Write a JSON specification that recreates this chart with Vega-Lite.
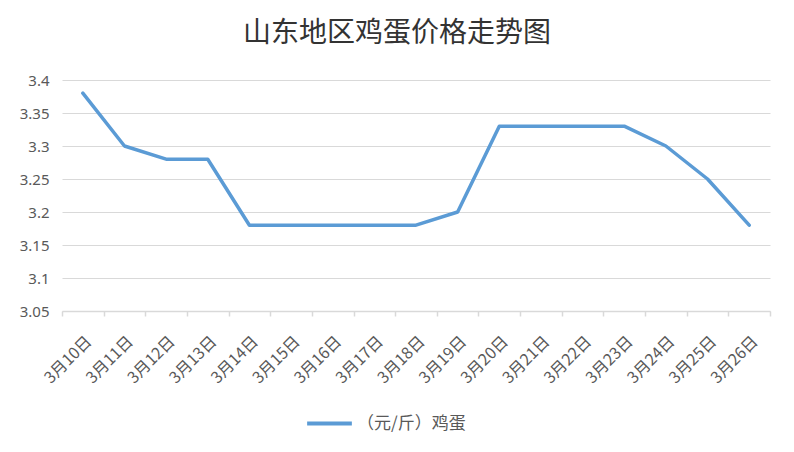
{
  "$schema": "https://vega.github.io/schema/vega-lite/v6.json",
  "autosize": {"type": "none"},
  "padding": {"left": 62, "top": 80, "right": 24, "bottom": 141},
  "width": 708,
  "height": 231,
  "background": "white",
  "title": {
    "text": "山东地区鸡蛋价格走势图",
    "font": "Noto Sans CJK SC",
    "fontSize": 28,
    "fontWeight": "normal",
    "color": "#333333",
    "anchor": "middle",
    "dx": -19,
    "offset": 25
  },
  "data": {
    "values": [
      {"date": "3月10日", "price": 3.38, "series": "（元/斤）鸡蛋"},
      {"date": "3月11日", "price": 3.30, "series": "（元/斤）鸡蛋"},
      {"date": "3月12日", "price": 3.28, "series": "（元/斤）鸡蛋"},
      {"date": "3月13日", "price": 3.28, "series": "（元/斤）鸡蛋"},
      {"date": "3月14日", "price": 3.18, "series": "（元/斤）鸡蛋"},
      {"date": "3月15日", "price": 3.18, "series": "（元/斤）鸡蛋"},
      {"date": "3月16日", "price": 3.18, "series": "（元/斤）鸡蛋"},
      {"date": "3月17日", "price": 3.18, "series": "（元/斤）鸡蛋"},
      {"date": "3月18日", "price": 3.18, "series": "（元/斤）鸡蛋"},
      {"date": "3月19日", "price": 3.20, "series": "（元/斤）鸡蛋"},
      {"date": "3月20日", "price": 3.33, "series": "（元/斤）鸡蛋"},
      {"date": "3月21日", "price": 3.33, "series": "（元/斤）鸡蛋"},
      {"date": "3月22日", "price": 3.33, "series": "（元/斤）鸡蛋"},
      {"date": "3月23日", "price": 3.33, "series": "（元/斤）鸡蛋"},
      {"date": "3月24日", "price": 3.30, "series": "（元/斤）鸡蛋"},
      {"date": "3月25日", "price": 3.25, "series": "（元/斤）鸡蛋"},
      {"date": "3月26日", "price": 3.18, "series": "（元/斤）鸡蛋"}
    ]
  },
  "mark": {"type": "line", "strokeWidth": 3.5, "strokeCap": "round", "strokeJoin": "round"},
  "encoding": {
    "x": {
      "field": "date",
      "type": "ordinal",
      "sort": null,
      "scale": {"type": "band", "paddingInner": 0, "paddingOuter": 0},
      "axis": {
        "title": null,
        "labelAngle": -45,
        "labelFont": "Noto Sans CJK SC",
        "labelFontSize": 16,
        "labelColor": "#595959",
        "labelPadding": 17,
        "tickBand": "extent",
        "ticks": true,
        "tickSize": 5,
        "tickColor": "#d9d9d9",
        "tickWidth": 1.5,
        "domainColor": "#d9d9d9",
        "domainWidth": 1.5,
        "grid": false
      }
    },
    "y": {
      "field": "price",
      "type": "quantitative",
      "scale": {"domain": [3.05, 3.4], "zero": false, "nice": false},
      "axis": {
        "title": null,
        "values": [3.05, 3.1, 3.15, 3.2, 3.25, 3.3, 3.35, 3.4],
        "format": ".3~f",
        "labelFont": "Noto Sans",
        "labelFontSize": 15,
        "labelColor": "#595959",
        "labelPadding": 13,
        "ticks": false,
        "tickSize": 0,
        "domain": false,
        "grid": true,
        "gridColor": "#d9d9d9",
        "gridWidth": 1
      }
    },
    "color": {
      "field": "series",
      "type": "nominal",
      "scale": {"range": ["#5b9bd5"]},
      "legend": {
        "title": null,
        "orient": "none",
        "legendX": 243,
        "legendY": 319,
        "symbolType": "stroke",
        "symbolSize": 2000,
        "symbolStrokeWidth": 4,
        "labelFont": "Noto Sans CJK SC",
        "labelFontSize": 17,
        "labelColor": "#595959",
        "labelOffset": 3
      }
    }
  },
  "config": {
    "view": {"stroke": null}
  }
}
